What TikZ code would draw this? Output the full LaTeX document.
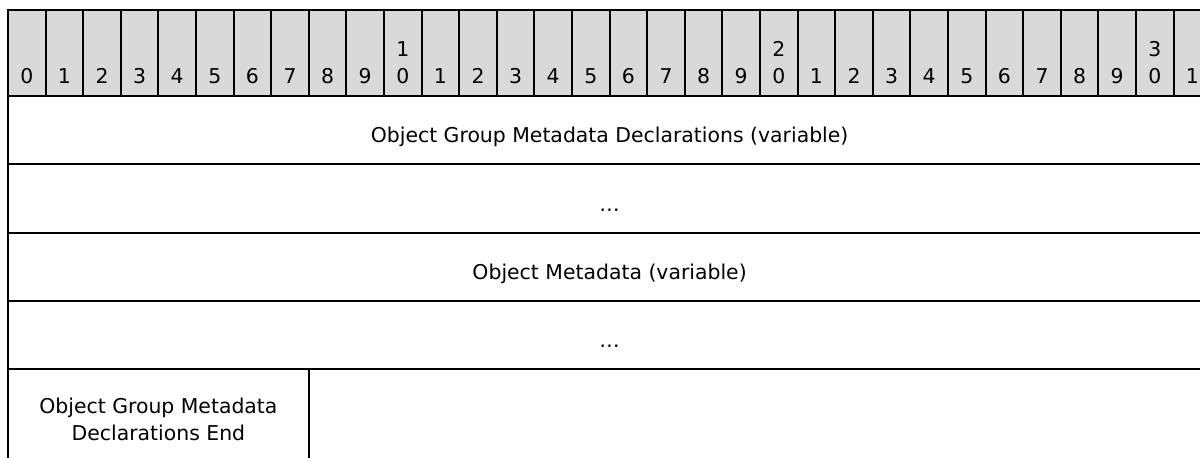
\documentclass[tikz,border=0pt]{standalone}
\usepackage{fontspec}
\setmainfont{DejaVu Sans}
\definecolor{hdrgray}{HTML}{D9D9D9}

\begin{document}
\begin{tikzpicture}[x=0.5pt, y=-0.5pt,
    cell/.style={rectangle, draw=black, line width=1pt, inner sep=0pt, outer sep=0pt, minimum height=34.125pt},
    bitcell/.style={cell, fill=hdrgray, minimum width=18.8pt, minimum height=43pt},
    rowcell/.style={cell, minimum width=601.6pt},
    bitnum/.style={anchor=base, inner sep=0pt, font=\fontsize{10.2}{13.5}\selectfont},
    field/.style={anchor=base, inner sep=0pt, font=\fontsize{10.2}{13.5}\selectfont}]
  \useasboundingbox (0,0) rectangle (1200,457);
  \clip (0,0) rectangle (1200,457);
  % bit ruler
  \foreach \lab [count=\i from 0] in {0,1,2,3,4,5,6,7,8,9,{1\\0},1,2,3,4,5,6,7,8,9,{2\\0},1,2,3,4,5,6,7,8,9,{3\\0},1} {
    \node[bitcell] (bit\i) at (26.8+37.6*\i, 53) {};
    \node[bitnum] (num\i) at (26.8+37.6*\i, 83) {\parbox[b]{2em}{\centering\lab}};
  }
  % fields
  \node[rowcell] (decl) at (609.6,130.125) {};
  \node[rowcell] (declmore) at (609.6,198.375) {};
  \node[rowcell] (meta) at (609.6,266.625) {};
  \node[rowcell] (metamore) at (609.6,334.875) {};
  \node[cell, minimum width=150.4pt, minimum height=60pt] (declend) at (158.4,429) {};

  \node[field] (decllabel) at (609.6,142) {Object Group Metadata Declarations (variable)};
  \node[field] (declmorelabel) at (609.6,211) {…};
  \node[field] (metalabel) at (609.6,279) {Object Metadata (variable)};
  \node[field] (metamorelabel) at (609.6,347) {…};
  \node[field] (declendlabel) at (158.4,440) {\parbox[b]{150pt}{\centering Object Group Metadata\\Declarations End}};
\end{tikzpicture}
\end{document}
